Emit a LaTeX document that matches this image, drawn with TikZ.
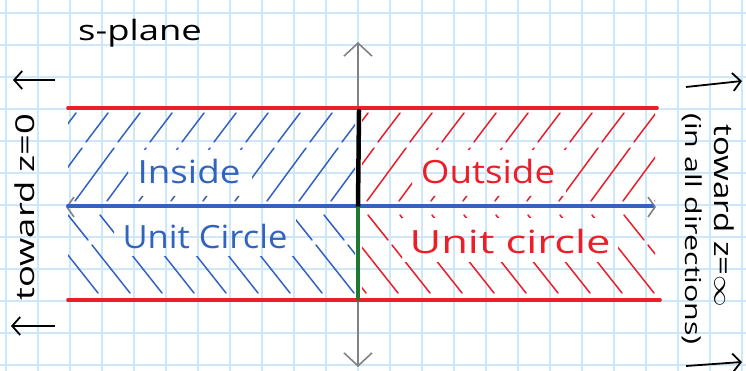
\documentclass[tikz,border=0pt]{standalone}
\usepackage{fontspec}
\setmainfont{Open Sans}
\usetikzlibrary{arrows.meta}
\definecolor{gridc}{RGB}{206,231,250}
\definecolor{myred}{RGB}{236,30,40}
\definecolor{myblue}{RGB}{50,100,190}
\definecolor{mygreen}{RGB}{30,120,50}
\definecolor{axgrey}{RGB}{130,130,130}
\begin{document}
\begin{tikzpicture}[x=1pt,y=-1pt,
  gridline/.style={gridc, line width=1.4pt},
  hatchb/.style={myblue, line width=1.5pt, line cap=round},
  hatchr/.style={myred, line width=1.5pt, line cap=round},
  bandline/.style={myred, line width=3.6pt, line cap=round},
  axisline/.style={axgrey, line width=1.6pt},
  sidearrow/.style={black, line width=1.8pt, -{Straight Barb[length=8pt,width=18pt]}},
  label/.style={inner sep=0pt, font=\fontsize{32}{36}\selectfont}]
\useasboundingbox (0,0) rectangle (746,371);
\fill[white] (0,0) rectangle (746,371);
% grid
\foreach \i in {0,...,23} \draw[gridline] (6+32*\i,0) -- (6+32*\i,371);
\foreach \j in {0,...,11} \draw[gridline] (0,13+32*\j) -- (746,13+32*\j);

% upper-left hatch
\begin{scope}[even odd rule]
\clip (68,111) rectangle (355,204) (128,150) rectangle (252,196);
\foreach \b in {8,40,...,360} {
  \draw[hatchb] (\b+3,201) -- (\b+42,148);
  \draw[hatchb] (\b+46,142) -- (\b+68,113);
}
\end{scope}
% upper-right hatch
\begin{scope}[even odd rule]
\clip (362,111) rectangle (655,204) (412,150) rectangle (566,196);
\foreach \b in {300,332,...,660} {
  \draw[hatchr] (\b+3,201) -- (\b+42,148);
  \draw[hatchr] (\b+46,142) -- (\b+68,113);
}
\end{scope}
% lower-left hatch
\begin{scope}[even odd rule]
\clip (68,210) rectangle (355,297) (114,214) rectangle (296,256);
\foreach \t in {0,32,...,352} {
  \draw[hatchb] (\t+4,215) -- (\t+24,240);
  \draw[hatchb] (\t+28,245) -- (\t+66,293);
}
\end{scope}
% lower-right hatch
\begin{scope}[even odd rule]
\clip (362,210) rectangle (655,297) (402,218) rectangle (618,262);
\foreach \t in {300,332,...,660} {
  \draw[hatchr] (\t+4,215) -- (\t+24,240);
  \draw[hatchr] (\t+28,245) -- (\t+66,293);
}
\end{scope}

% named points
\coordinate (axL) at (66,207);
\coordinate (axR) at (656,207);
\coordinate (axT) at (358,42);
\coordinate (axB) at (358,367);
\coordinate (o) at (358,206);
\coordinate (topL) at (68,108);
\coordinate (topR) at (657,108);
\coordinate (botL) at (68,300);
\coordinate (botR) at (660,300);
\coordinate (topM) at (359,111);
\coordinate (botM) at (358,299);

% axes
\draw[axisline, {Straight Barb[length=7pt,width=20pt]}-{Straight Barb[length=7pt,width=20pt]}] (axL) -- (axR);
\draw[axisline, {Straight Barb[length=13pt,width=28pt]}-{Straight Barb[length=13pt,width=28pt]}] (axT) -- (axB);
% band edges
\draw[bandline] (topL) -- (topR);
\draw[bandline] (botL) -- (botR);
% unit circle image
\draw[myblue, line width=4pt, line cap=round] (68,206) -- (652,206);
\draw[black, line width=4.5pt, line cap=round] (topM) -- (o);
\draw[mygreen, line width=3.6pt, line cap=round] (358,208) -- (botM);

% labels
\node[label, text=myblue, xscale=1.15] (inside) at (189,172) {Inside};
\node[label, text=myred, xscale=1.15] (outside) at (488,172) {Outside};
\node[label, text=myblue, xscale=1.08] (ucl) at (205,236) {Unit Circle};
\node[label, text=myred, xscale=1.36] (ucr) at (510,241) {Unit circle};
\node[label, font=\fontsize{28}{32}\selectfont, xscale=1.3] (sp) at (140,33) {s-plane};
\node[label, font=\fontsize{26}{30}\selectfont, rotate=90, xscale=1.4] (tz0) at (25,207) {toward z=0};
\node[label, font=\fontsize{26}{30}\selectfont, rotate=-90, xscale=1.27] (tzi) at (724,216) {toward z=$\infty$};
\node[label, font=\fontsize{22}{26}\selectfont, rotate=-90, xscale=1.38] (dirs) at (692,229) {(in all directions)};

% side arrows
\coordinate (la1s) at (55,80);  \coordinate (la1e) at (13,80);
\coordinate (la2s) at (55,326); \coordinate (la2e) at (11,326);
\coordinate (ra1s) at (686,87); \coordinate (ra1e) at (742,81);
\coordinate (ra2s) at (686,366); \coordinate (ra2e) at (742,362);
\draw[sidearrow] (la1s) -- (la1e);
\draw[sidearrow] (la2s) -- (la2e);
\draw[sidearrow] (ra1s) -- (ra1e);
\draw[sidearrow] (ra2s) -- (ra2e);
\end{tikzpicture}
\end{document}
